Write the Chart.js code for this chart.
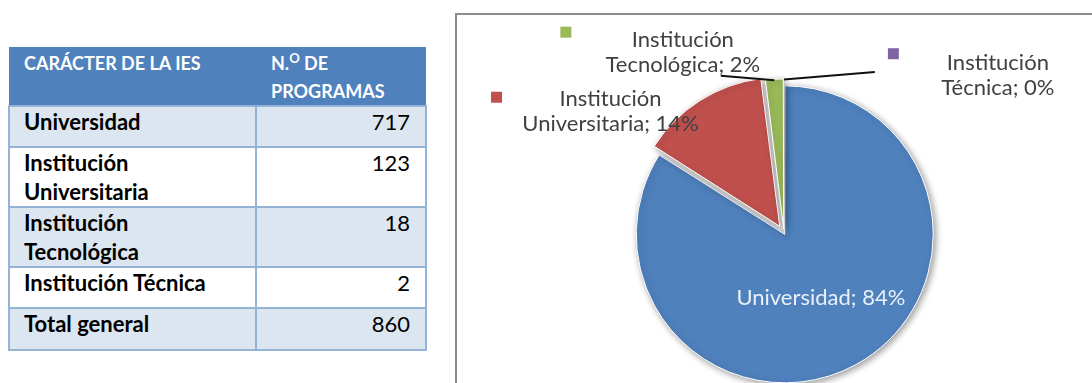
<!DOCTYPE html>
<html lang="es">
<head>
<meta charset="utf-8">
<script src="https://cdn.jsdelivr.net/npm/chart.js@4.4.1/dist/chart.umd.min.js"></script>
<style>
  html, body { margin: 0; padding: 0; background: #fff; overflow: hidden; }
  body { width: 1092px; height: 383px; position: relative; font-family: Lato, "Open Sans", sans-serif; }

  #tabla { position: absolute; left: 8px; top: 47px; width: 417px; border-collapse: collapse; table-layout: fixed; }
  #tabla tr.cabecera { height: 58px; }
  #tabla th { background: #4f81bd; color: #fff; font-size: 18px; font-weight: bold; text-align: left;
              vertical-align: top; padding: 2px 14px 0 15px; line-height: 28px; }
  #tabla td { border: 2px solid #95b3d7; font-size: 22px; vertical-align: top; padding: 0 14px;
              line-height: 29px; color: #000; }
  #tabla td.cat { font-weight: bold; }
  #tabla td.num { text-align: right; padding-right: 15px; }
  #tabla tr.banda td { background: #dce6f1; }
  #tabla sup { font-size: 13px; vertical-align: 7px; line-height: 0; }

  #marco { position: absolute; left: 455px; top: 13px; width: 700px; height: 460px;
           border-top: 2px solid #8c8c8c; border-left: 2px solid #8c8c8c; overflow: hidden; }
  #grafico { position: absolute; left: 0; top: 0; }
</style>
</head>
<body>
<table id="tabla">
  <colgroup><col style="width:247px"><col style="width:170px"></colgroup>
  <thead>
    <tr class="cabecera"><th>CARÁCTER DE LA IES</th><th>N.<sup>O</sup> DE PROGRAMAS</th></tr>
  </thead>
  <tbody id="cuerpo"></tbody>
</table>

<div id="marco">
  <canvas id="grafico" width="640" height="420"></canvas>
</div>

<script>
const categories = ["Universidad", "Institución Universitaria", "Institución Tecnológica", "Institución Técnica"];
const programs = [717, 123, 18, 2];
const shares = [84, 14, 2, 0];
const sliceColors = ["#4f81bd", "#c0504d", "#9bbb59", "#8064a2"];
const sliceOffsets = [6, 32, 15, 15];

// tabla de programas por carácter de la IES
const cuerpo = document.getElementById("cuerpo");
const rowHeights = [41, 60, 60, 41, 42];
categories.concat(["Total general"]).forEach((cat, i) => {
  const tr = document.createElement("tr");
  if (i % 2 === 0) tr.className = "banda";
  const value = i < programs.length ? programs[i] : programs.reduce((a, b) => a + b, 0);
  tr.innerHTML = `<td class="cat">${cat}</td><td class="num">${value}</td>`;
  tr.style.height = rowHeights[i] + "px";
  cuerpo.appendChild(tr);
});

// posición de cada etiqueta en radios respecto al centro: [x, y, fin guía x, fin guía y]
const labelSpots = [
  null,
  [-1.18, -0.825, null, null],
  [-0.688, -1.23, -0.43, -1.07],
  [1.455, -1.07, 0.618, -1.095],
];
const keyOffsets = [null, [-114, -14.5], [-117, -20], [-104.5, -22]];

function arcShift(arc) {
  const o = (arc.options.offset || 0) / 4;
  const circ = arc.endAngle - arc.startAngle;
  const fix = 1 - Math.sin(Math.min(Math.PI, circ));
  return o * (1 + fix);
}

const sombra = {
  id: "sombra",
  beforeDatasetsDraw(chart) {
    const ctx = chart.ctx;
    ctx.save();
    ctx.shadowColor = "rgba(0, 0, 0, 0.4)";
    ctx.shadowBlur = 7;
    ctx.shadowOffsetX = 2;
    ctx.shadowOffsetY = 2;
  },
  afterDatasetsDraw(chart) {
    chart.ctx.restore();
  },
};

const etiquetas = {
  id: "etiquetas",
  afterDraw(chart) {
    const ctx = chart.ctx;
    const arcs = chart.getDatasetMeta(0).data;
    const cx = arcs[0].x;
    const cy = arcs[0].y;
    const r = arcs[0].outerRadius;
    ctx.save();
    ctx.font = "22px Lato";
    ctx.textAlign = "center";
    ctx.textBaseline = "middle";

    arcs.forEach((arc, i) => {
      const mid = (arc.startAngle + arc.endAngle) / 2;
      const s = arcShift(arc);
      const ox = cx + Math.cos(mid) * s;
      const oy = cy + Math.sin(mid) * s;

      if (i === 0) {
        // dentro del sector
        ctx.fillStyle = "#e9f0f9";
        ctx.fillText(`${categories[i]}; ${shares[i]}%`, ox + Math.cos(mid) * r / 2, oy + Math.sin(mid) * r / 2 - 2);
        return;
      }

      const spot = labelSpots[i];
      const lx = cx + spot[0] * r;
      const ly = cy + spot[1] * r;
      const words = categories[i].split(" ");
      const line1 = words[0];
      const line2 = `${words.slice(1).join(" ")}; ${shares[i]}%`;

      if (spot[2] !== null) {
        ctx.strokeStyle = "#111";
        ctx.lineWidth = 2;
        ctx.beginPath();
        ctx.moveTo(ox + Math.cos(mid) * r, oy + Math.sin(mid) * (r - 1));
        ctx.lineTo(cx + spot[2] * r, cy + spot[3] * r);
        ctx.stroke();
      }

      ctx.fillStyle = "#404040";
      ctx.fillText(line1, lx, ly - 12.5);
      ctx.fillText(line2, lx, ly + 12.5);

      const k = keyOffsets[i];
      ctx.fillStyle = sliceColors[i];
      ctx.fillRect(lx + k[0] - 5.5, ly + k[1] - 5.5, 11, 11);
    });
    ctx.restore();
  },
};

new Chart(document.getElementById("grafico"), {
  type: "pie",
  data: {
    labels: categories,
    datasets: [
      {
        data: shares,
        backgroundColor: sliceColors,
        offset: sliceOffsets,
        borderColor: "#ffffff",
        borderWidth: 1,
      },
    ],
  },
  options: {
    responsive: false,
    animation: false,
    devicePixelRatio: 1,
    radius: 147,
    layout: { padding: { left: 167, right: 153, top: 58, bottom: 42 } },
    plugins: {
      legend: { display: false },
      tooltip: { enabled: false },
    },
  },
  plugins: [sombra, etiquetas],
});
</script>
</body>
</html>
